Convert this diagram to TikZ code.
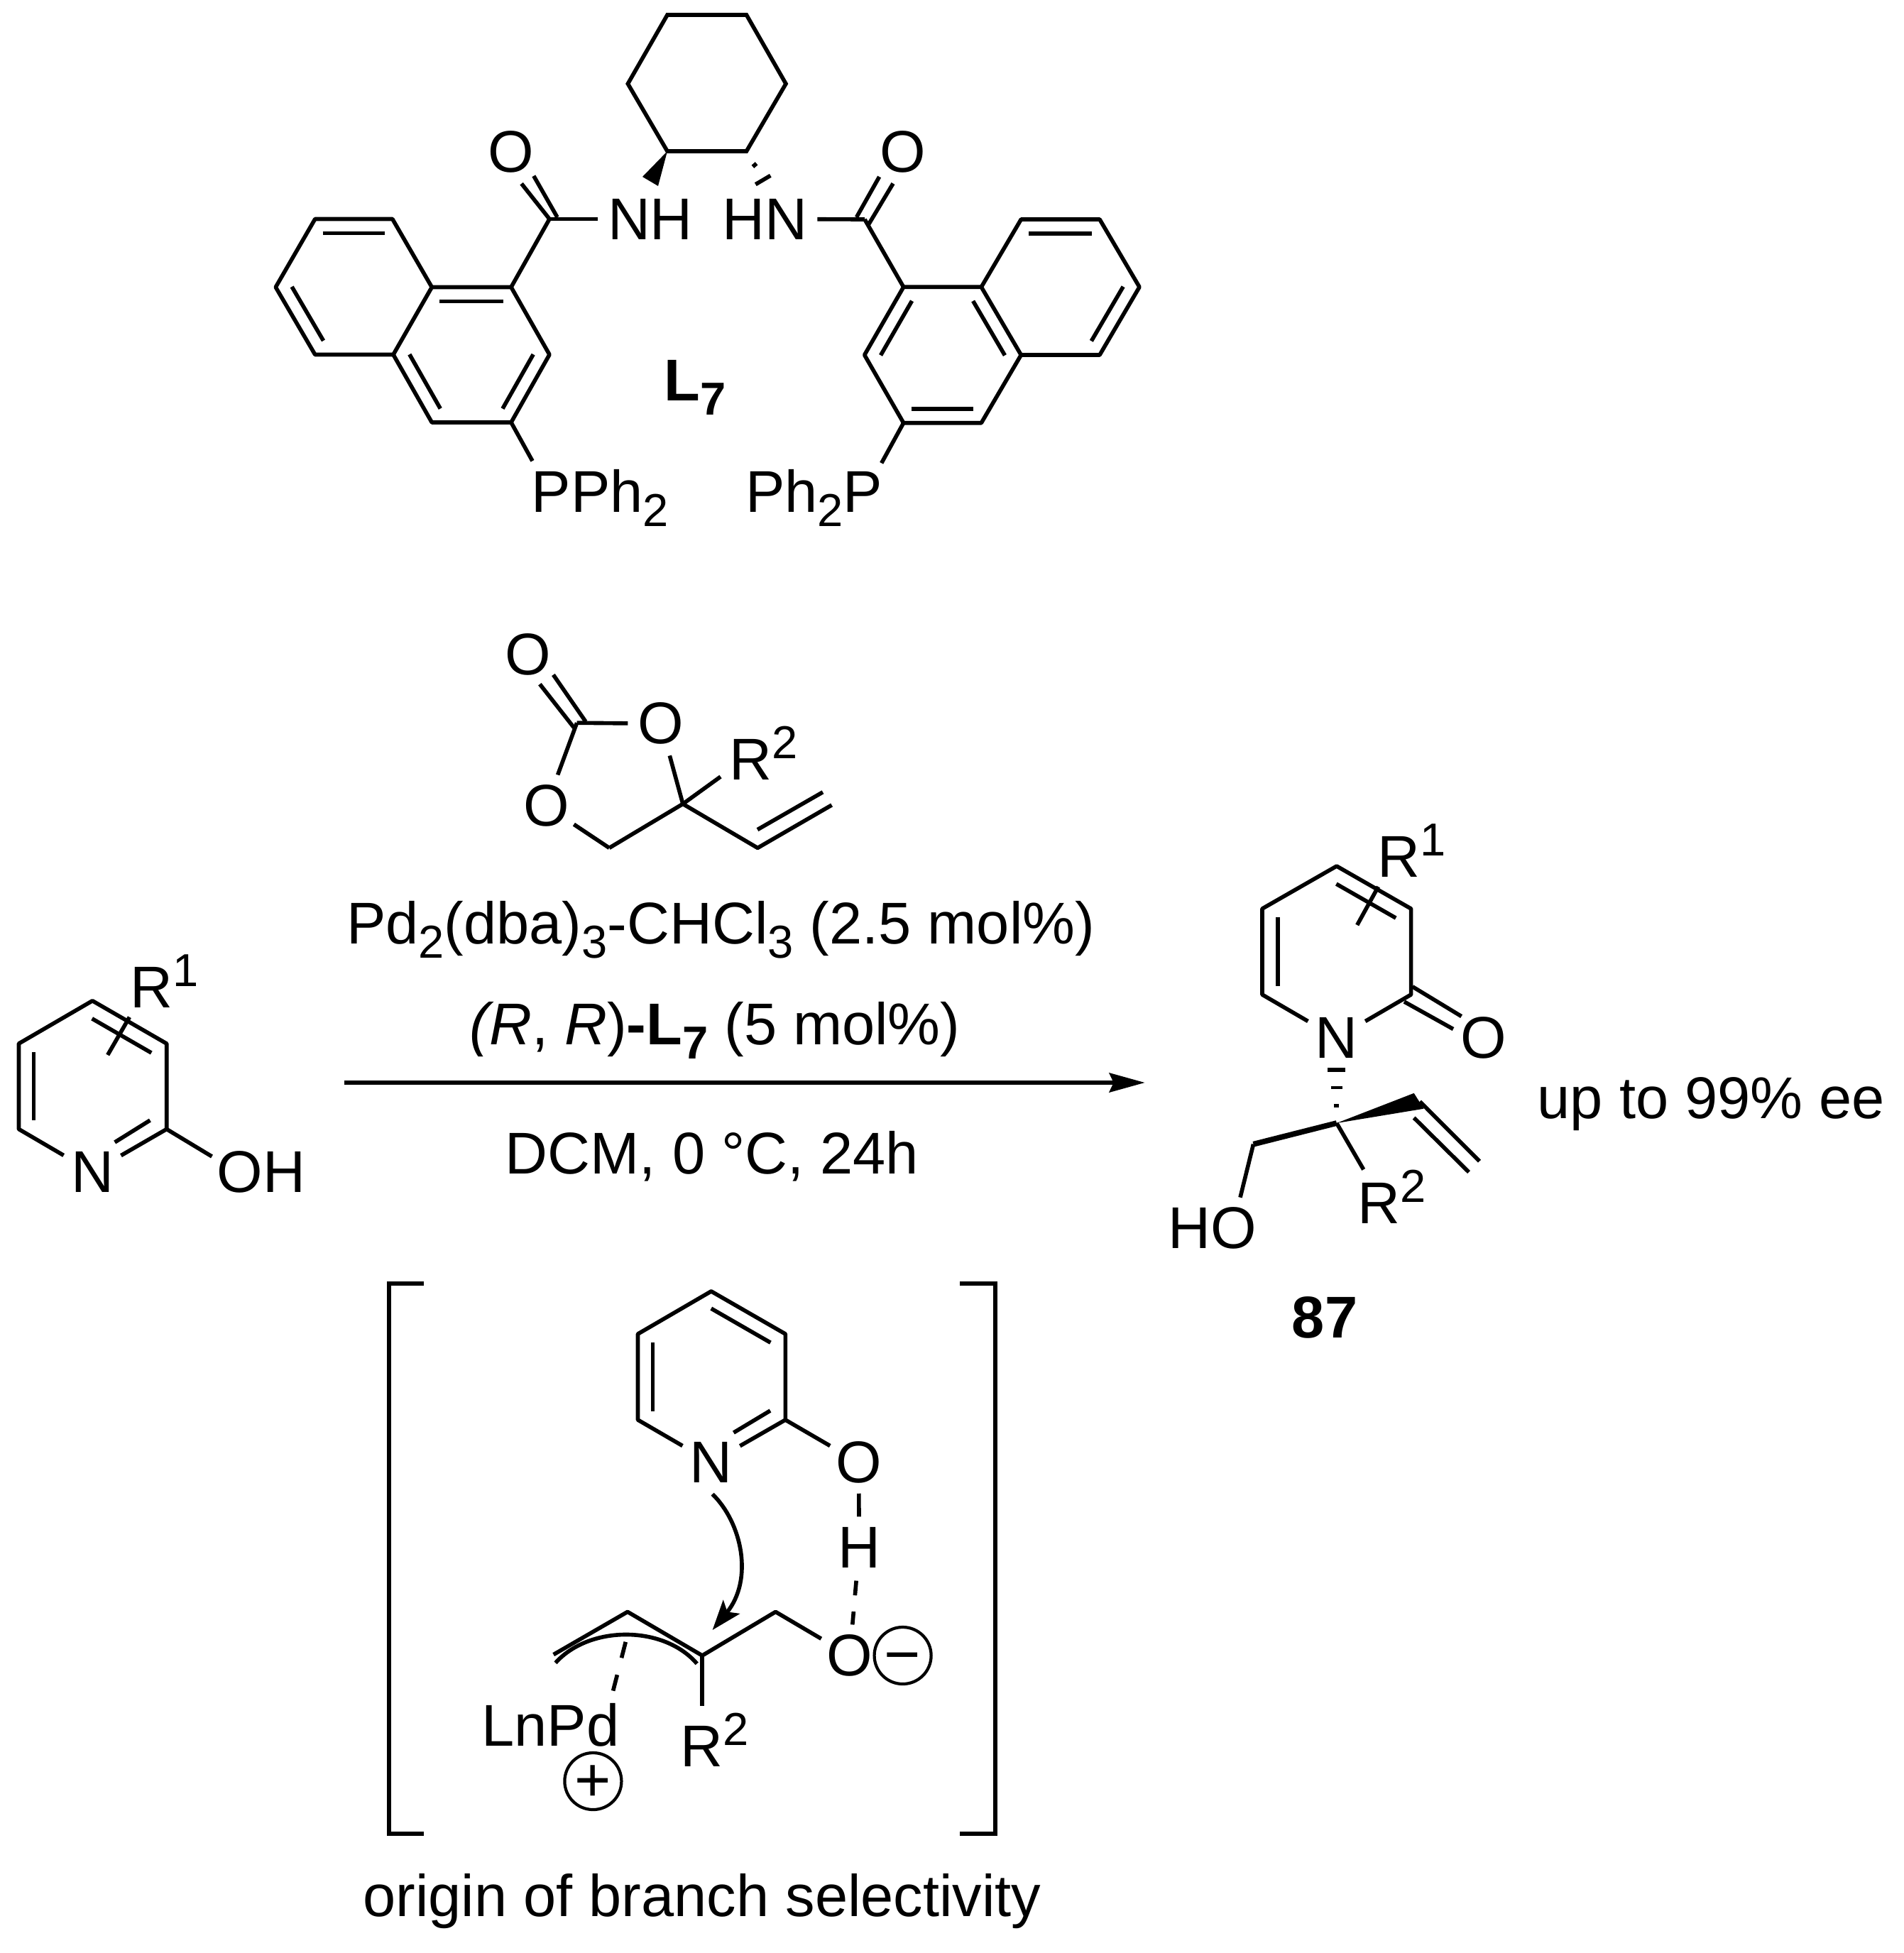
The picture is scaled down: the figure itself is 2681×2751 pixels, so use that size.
\documentclass[tikz,border=0pt]{standalone}
\usepackage{fontspec}
\setmainfont{Liberation Sans}
\usetikzlibrary{arrows.meta,calc}
\newcommand{\chem}{\fontsize{23.6}{28}\selectfont}
\newcommand{\sbs}[1]{\raisebox{-5.7pt}{\fontsize{18.5}{18}\selectfont #1}}
\newcommand{\sps}[1]{\raisebox{8.5pt}{\fontsize{18.5}{18}\selectfont #1}}
\newcommand{\dbl}[3]{\draw[bond] ($(#1)!.1!(#2)!#3!90:(#2)$) -- ($(#2)!.1!(#1)!-#3!90:(#1)$);}
\tikzset{
  bond/.style={line width=1.6pt},
  atom/.style={circle,inner sep=0pt,minimum size=.92cm,font=\chem},
  group/.style={inner ysep=0pt,inner xsep=.13cm,font=\chem},
  chemtext/.style={inner sep=0pt,font=\chem},
  charge/.style={circle,draw,line width=1.2pt,inner sep=0pt,minimum size=.8cm,text height=16.2pt,text depth=0pt,font=\fontsize{25}{25}\selectfont},
  bracket/.style={line width=1.7pt},
}
\begin{document}
\begin{tikzpicture}[x=.01cm,y=-.01cm]
  \useasboundingbox (0,0) rectangle (2681,2751);

  \coordinate (h1) at (940,21);
  \coordinate (h2) at (1051.5,21);
  \coordinate (h3) at (1107,118);
  \coordinate (h4) at (1051.5,213);
  \coordinate (h5) at (940,213);
  \coordinate (h6) at (884.4,118);
  \draw[bond,line join=miter] (h1) -- (h2) -- (h3) -- (h4) -- (h5) -- (h6) -- cycle;
  \fill (h5) -- (905,249) -- (927,262) -- cycle;
  \draw[bond] (1060.4,234.8) -- (1065.6,230.3);
  \draw[bond] (1064.3,259.7) -- (1085.3,247.3);

  \coordinate (a1) at (443.8,308.5);
  \coordinate (a2) at (552.8,308.5);
  \coordinate (a3) at (608.3,404.5);
  \coordinate (a4) at (554,499.5);
  \coordinate (a5) at (443.8,499.5);
  \coordinate (a6) at (388.3,404.5);
  \coordinate (b1) at (720,404.5);
  \coordinate (b2) at (774,499.5);
  \coordinate (b3) at (720,595);
  \coordinate (b4) at (608.3,595);
  \coordinate (acyl1) at (774,308.5);
  \node[atom] (oxo1) at (720,214) {O};
  \node[group] (nh) at (916,308.5) {NH};
  \node[group,anchor=base west,inner xsep=0pt] (pph) at (748,721.5) {PPh\sbs{2}};
  \coordinate (pend1) at (750,649.3);
  \draw[bond,line join=round] (a1) -- (a2) -- (a3) -- (a4) -- (a5) -- (a6) -- cycle;
  \draw[bond,line join=round] (a3) -- (b1) -- (b2) -- (b3) -- (b4) -- (a4);
  \draw[bond] (b1) -- (acyl1);
  \draw[bond] (acyl1) -- (nh);
  \draw[bond] (b3) -- (pend1);
  \draw[bond] (734.6,258.7) -- (acyl1);
  \draw[bond] (751.8,247.8) -- (785,306);
  \dbl{a1}{a2}{-.2cm}
  \dbl{a6}{a5}{.2cm}
  \dbl{a3}{b1}{-.2cm}
  \dbl{a4}{b4}{.2cm}
  \dbl{b2}{b3}{-.2cm}

  \coordinate (c1) at (1549,309);
  \coordinate (c2) at (1438.3,309);
  \coordinate (c3) at (1382.3,404.3);
  \coordinate (c4) at (1438.3,500);
  \coordinate (c5) at (1549,500);
  \coordinate (c6) at (1605,404.3);
  \coordinate (d1) at (1272.7,404.3);
  \coordinate (d2) at (1217.7,500);
  \coordinate (d3) at (1272.7,595.7);
  \coordinate (d4) at (1382.3,595.7);
  \coordinate (acyl2) at (1218,309);
  \node[atom] (oxo2) at (1271.6,214) {O};
  \node[group] (hn) at (1077.7,308.5) {HN};
  \node[group,anchor=base east,inner xsep=0pt] (php) at (1244,721.5) {Ph\sbs{2}P};
  \coordinate (pend2) at (1241.7,652.3);
  \draw[bond,line join=round] (c1) -- (c2) -- (c3) -- (c4) -- (c5) -- (c6) -- cycle;
  \draw[bond,line join=round] (c3) -- (d1) -- (d2) -- (d3) -- (d4) -- (c4);
  \draw[bond] (d1) -- (acyl2);
  \draw[bond] (acyl2) -- (hn);
  \draw[bond] (d3) -- (pend2);
  \draw[bond] (1238.6,249) -- (1206.5,306);
  \draw[bond] (1258,258.5) -- (1223,317);
  \dbl{c2}{c1}{-.2cm}
  \dbl{c6}{c5}{-.2cm}
  \dbl{c3}{c4}{-.2cm}
  \dbl{d1}{d2}{.2cm}
  \dbl{d3}{d4}{.2cm}
  \node[chemtext,anchor=base west,font=\chem\bfseries] (ligand) at (935,564.7) {L\sbs{7}};

  \node[atom] (oc) at (743.8,921.8) {O};
  \node[atom] (or) at (931,1019.3) {O};
  \node[atom] (ol) at (769.5,1135.3) {O};
  \coordinate (cc) at (812.6,1018.2);
  \coordinate (cq) at (961.9,1132.4);
  \coordinate (ch) at (858.2,1194.4);
  \coordinate (cv) at (1067.2,1194.4);
  \coordinate (cw) at (1171.6,1134);
  \coordinate (rend1) at (1015,1094);
  \node[chemtext,anchor=base west] (rb) at (1027,1098) {R\sps{2}};
  \draw[bond] (cc) -- (or);
  \draw[bond] (or) -- (cq);
  \draw[bond] (cc) -- (ol);
  \draw[bond] (ol) -- (ch);
  \draw[bond,line join=round] (ch) -- (cq) -- (cv) -- (cw);
  \draw[bond] (cq) -- (rend1);
  \draw[bond] (1067,1168.6) -- (1159,1115.8);
  \draw[bond] (760.4,963.7) -- (808.5,1025);
  \draw[bond] (779.4,950.5) -- (825,1016.5);

  \coordinate (p1) at (130.2,1409.7);
  \coordinate (p2) at (234.7,1470);
  \coordinate (p3) at (234.7,1590.5);
  \coordinate (p5) at (26.5,1590.5);
  \coordinate (p6) at (26.5,1470);
  \coordinate (oend) at (298.5,1629);
  \node[atom] (np) at (130,1651) {N};
  \node[chemtext,anchor=base west] (oh) at (305,1679.5) {OH};
  \node[chemtext,anchor=base west] (ra) at (183,1419.5) {R\sps{1}};
  \draw[bond,line join=round] (np) -- (p5) -- (p6) -- (p1) -- (p2) -- (p3) -- (np);
  \draw[bond] (p3) -- (oend);
  \draw[bond] (211.4,1578) -- (161.7,1609);
  \dbl{p1}{p2}{-.22cm}
  \dbl{p6}{p5}{.21cm}
  \draw[bond] (151.7,1486) -- (182.4,1432.7);

  \node[chemtext,anchor=base] (pdcat) at (1015,1329) {Pd\sbs{2}(dba)\sbs{3}-CHCl\sbs{3} (2.5 mol\%)};
  \node[chemtext,anchor=base] (ligcat) at (1007,1471.7) {\textit{(R}, \textit{R})\textbf{-L\sbs{7}} (5 mol\%)};
  \node[chemtext,anchor=base] (cond) at (1003,1653.7) {DCM, 0 °C, 24h};
  \coordinate (rxnstart) at (485,1525);
  \coordinate (rxnend) at (1612.7,1525);
  \draw[line width=1.7pt,-{Stealth[length=.5cm,width=.27cm,inset=.06cm]}] (rxnstart) -- (rxnend);

  \coordinate (q1) at (1882.8,1220);
  \coordinate (q2) at (1987.6,1280);
  \coordinate (q3) at (1987.6,1401);
  \coordinate (q5) at (1778,1401);
  \coordinate (q6) at (1778,1280);
  \coordinate (qc) at (1882.8,1582);
  \coordinate (qm) at (1765.5,1611.7);
  \coordinate (qv) at (2000,1551.5);
  \coordinate (qw) at (2084,1635.7);
  \coordinate (hoend) at (1747,1686.7);
  \coordinate (rend2) at (1920.7,1647.4);
  \node[atom] (nq) at (1882.8,1462) {N};
  \node[atom] (oq) at (2089.7,1462) {O};
  \node[chemtext,anchor=base west] (rc) at (1940,1235) {R\sps{1}};
  \node[chemtext,anchor=base west] (rd) at (1912,1723.5) {R\sps{2}};
  \node[chemtext,anchor=base] (ho) at (1708,1758) {HO};
  \node[chemtext,anchor=base,font=\chem\bfseries] (prod) at (1866,1884) {87};
  \node[chemtext,anchor=base west] (ee) at (2165,1575.5) {up to 99\% ee};
  \draw[bond,line join=round] (nq) -- (q5) -- (q6) -- (q1) -- (q2) -- (q3) -- (nq);
  \dbl{q1}{q2}{-.22cm}
  \dbl{q6}{q5}{.22cm}
  \draw[bond] (1911.7,1303) -- (1941.4,1249);
  \draw[bond] (1989.7,1389.8) -- (2058.6,1431.6);
  \draw[bond] (1978,1411) -- (2047,1449.5);
  \draw[line width=1.6pt] (1870.4,1507) -- (1895.2,1507);
  \draw[line width=1.3pt] (1874.5,1532) -- (1891.1,1532);
  \draw[line width=1.3pt] (1879.4,1557.6) -- (1886.2,1557.6);
  \fill (qc) -- (1991.7,1539.8) -- (2005.5,1561.7) -- cycle;
  \draw[line width=2.2pt] (qm) -- (qc);
  \draw[bond] (qm) -- (hoend);
  \draw[bond] (qc) -- (rend2);
  \draw[bond] (qv) -- (qw);
  \draw[bond] (1991.7,1574.5) -- (2069,1651);

  \coordinate (r1) at (1001.8,1818.9);
  \coordinate (r2) at (1106.3,1879);
  \coordinate (r3) at (1106.3,2000);
  \coordinate (r5) at (898.5,2000);
  \coordinate (r6) at (898.5,1879);
  \node[atom] (nr) at (1001.8,2060) {N};
  \node[atom] (ohb) at (1209.6,2060) {O};
  \node[atom] (hb) at (1210.2,2180) {H};
  \node[atom] (om) at (1197,2332) {O};
  \node[charge] (minus) at (1271.6,2332) {−};
  \draw[bond,line join=round] (nr) -- (r5) -- (r6) -- (r1) -- (r2) -- (r3) -- (nr);
  \dbl{r1}{r2}{-.21cm}
  \dbl{r6}{r5}{.21cm}
  \draw[bond] (1085,1987) -- (1033.4,2018);
  \draw[bond] (r3) -- (ohb);
  \draw[bond,shorten <=-.03cm,shorten >=-.03cm] (ohb) -- (hb);
  \draw[bond,dash pattern=on 5.9pt off 6.5pt,shorten >=-.03cm] (hb) -- (om);

  \coordinate (s1) at (779.7,2330.6);
  \coordinate (s2) at (884,2270.4);
  \coordinate (s3) at (989.2,2332);
  \coordinate (s4) at (1092.5,2270.4);
  \coordinate (rend3) at (989.2,2403);
  \coordinate (arcstart) at (782.5,2342.3);
  \coordinate (arcend) at (981.7,2343.4);
  \coordinate (pdstart) at (881.3,2312.8);
  \node[chemtext,anchor=base west] (pd) at (678,2459.7) {LnPd};
  \node[chemtext,anchor=base west] (re) at (958,2488.8) {R\sps{2}};
  \node[charge] (plus) at (835.4,2509) {+};
  \draw[bond,line join=round] (s1) -- (s2) -- (s3) -- (s4) -- (om);
  \draw[bond] (s3) -- (rend3);
  \draw[bond] (arcstart) .. controls (830,2289) and (935,2289) .. (arcend);
  \draw[bond,dash pattern=on 6.6pt off 7pt] (pdstart) -- (863,2384);
  \draw[bond,-{Stealth[length=.42cm,width=.3cm,inset=.09cm]}] (1003.6,2104.6) .. controls (1045,2145) and (1062,2225) .. (1003.6,2296);

  \draw[bracket,line join=miter] (597.4,1807.6) -- (548.3,1807.6) -- (548.3,2583) -- (597.4,2583);
  \draw[bracket,line join=miter] (1352,1807.6) -- (1401.8,1807.6) -- (1401.8,2583) -- (1352,2583);
  \node[chemtext,anchor=base] (origin) at (989,2699) {origin of branch selectivity};
\end{tikzpicture}
\end{document}
